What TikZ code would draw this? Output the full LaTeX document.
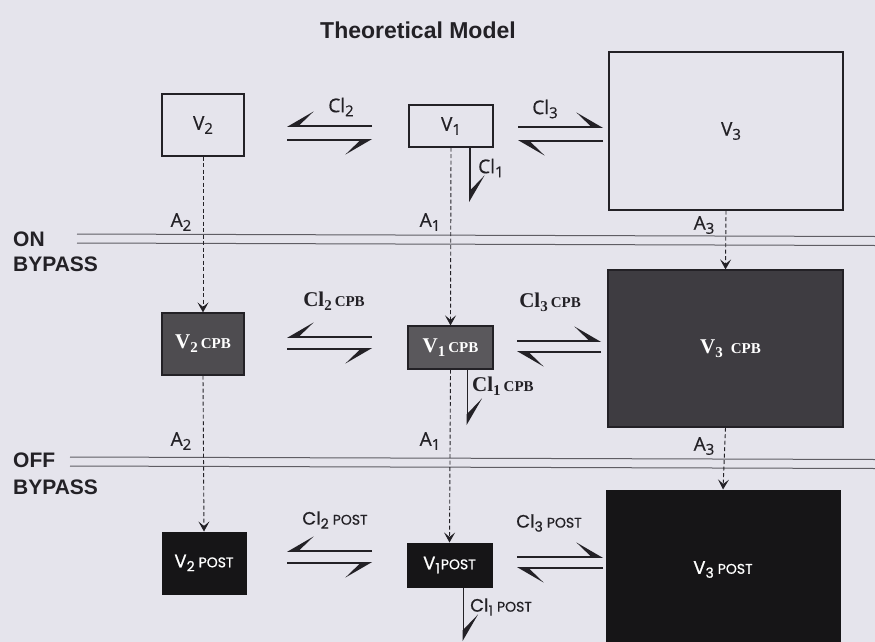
\documentclass[tikz,border=0pt]{standalone}
\usepackage{fontspec}
\usetikzlibrary{arrows.meta}
\newfontfamily\ttlfont{Liberation Sans}
\newfontfamily\humfont{Open Sans}[FakeBold=0.6]
\newfontfamily\serfont{Liberation Serif}
\newfontfamily\geofont{Poppins}[FakeBold=0.8]
\definecolor{bg}{RGB}{229,228,236}
\definecolor{ink}{RGB}{35,33,38}
\definecolor{cpbA}{RGB}{78,76,80}
\definecolor{cpbB}{RGB}{90,88,92}
\definecolor{cpbC}{RGB}{62,60,65}
\definecolor{postc}{RGB}{22,21,23}
\definecolor{rulec}{RGB}{95,93,100}
% row 1 labels (humanist sans)
\newcommand\Lone[2]{{\humfont\fontsize{19}{19}\selectfont #1\raisebox{-4pt}{\fontsize{15}{15}\selectfont #2}}}
% row 2 labels (bold serif)
\newcommand\Ltwo[4][3pt]{{\serfont\bfseries\fontsize{21}{21}\selectfont #2\raisebox{-4pt}{\fontsize{15}{15}\selectfont #3}\hspace{#1}\fontsize{15}{15}\selectfont #4}}
% row 3 labels (geometric sans)
\newcommand\Lthree[4][4pt]{{\geofont\fontsize{18}{18}\selectfont #2\raisebox{-4pt}{\fontsize{14}{14}\selectfont #3}\hspace{#1}\fontsize{14}{14}\selectfont #4}}
\newcommand\bigsans[1]{{\ttlfont\bfseries\fontsize{21}{21}\selectfont #1}}
\begin{document}
\begin{tikzpicture}[x=1pt,y=-1pt,
  openbox/.style={draw=ink, line width=1.2pt, fill=bg, inner sep=0pt, text=ink},
  cpbbox/.style={draw=ink, line width=1.2pt, inner sep=0pt, text=white},
  postbox/.style={draw=postc, line width=1pt, fill=postc, inner sep=0pt, text=white},
  dasharrow/.style={draw=ink, line width=0.9pt, dash pattern=on 4pt off 2.5pt,
    -{Stealth[length=10pt, width=11pt, inset=4.5pt, sep=0pt]}},
  hl/.style={draw=ink, line width=1.8pt, -{Stealth[harpoon, length=25pt, width=29pt, inset=15pt]}},
  hr/.style={draw=ink, line width=1.8pt, -{Stealth[harpoon, swap, length=25pt, width=29pt, inset=15pt]}},
  dbl/.style={draw=rulec, line width=1pt},
  lab/.style={inner sep=0pt, text=ink}
]
\useasboundingbox[fill=bg] (0,0) rectangle (875,642);

% title
\node[lab] (title) at (418,30) {{\ttlfont\bfseries\fontsize{23}{23}\selectfont Theoretical Model}};

% section labels
\node[lab, anchor=west] (on) at (13,239) {\bigsans{ON}};
\node[lab, anchor=west] (bypassA) at (13,264) {\bigsans{BYPASS}};
\node[lab, anchor=west] (off) at (13,460) {\bigsans{OFF}};
\node[lab, anchor=west] (bypassB) at (13,487) {\bigsans{BYPASS}};

% double rules
\coordinate (onLa) at (77,234);  \coordinate (onRa) at (875,236.5);
\coordinate (onLb) at (77,243);  \coordinate (onRb) at (875,245.5);
\coordinate (offLa) at (70,457); \coordinate (offRa) at (875,459.5);
\coordinate (offLb) at (70,466); \coordinate (offRb) at (875,468.5);
\draw[dbl] (onLa) -- (onRa);
\draw[dbl] (onLb) -- (onRb);
\draw[dbl] (offLa) -- (offRa);
\draw[dbl] (offLb) -- (offRb);

% row 1 boxes
\node[openbox, minimum width=82, minimum height=62] (V2) at (203,125) {\Lone{V}{2}};
\node[openbox, minimum width=84, minimum height=42] (V1) at (451,126) {\Lone{V}{1}};
\node[openbox, minimum width=234, minimum height=158] (V3) at (726,131) {\hspace{10pt}\raisebox{-6pt}{\Lone{V}{3}}};

% row 2 boxes
\node[cpbbox, fill=cpbA, minimum width=82, minimum height=62] (V2c) at (203,344) {\Ltwo{V}{2}{CPB}};
\node[cpbbox, fill=cpbB, minimum width=85, minimum height=43] (V1c) at (450.5,347.5) {\Ltwo{V}{1}{CPB}};
\node[cpbbox, fill=cpbC, minimum width=235, minimum height=157] (V3c) at (725.5,348.5) {\hspace{10pt}\raisebox{-3pt}{\Ltwo[8pt]{V}{3}{CPB}}};

% row 3 boxes
\node[postbox, minimum width=84, minimum height=62] (V2p) at (204,563) {\Lthree{V}{2}{POST}};
\node[postbox, minimum width=85, minimum height=44] (V1p) at (449.5,565) {\Lthree[1pt]{V}{1}{POST}};
\node[postbox, minimum width=234, minimum height=160] (V3p) at (723,570) {\raisebox{5pt}{\Lthree{V}{3}{POST}}};

% dashed transfer arrows
\draw[dasharrow] (V2.south) -- (V2c.north);
\draw[dasharrow] (V1.south) -- (V1c.north);
\draw[dasharrow] (V3.south) -- (V3c.north);
\draw[dasharrow] (V2c.south) -- (V2p.north);
\draw[dasharrow] (V1c.south) -- (V1p.north);
\draw[dasharrow] (V3c.south) -- (V3p.north);

% A labels
\node[lab] (A2a) at (181,222) {\Lone{A}{2}};
\node[lab] (A1a) at (430,222) {\Lone{A}{1}};
\node[lab] (A3a) at (704,225) {\Lone{A}{3}};
\node[lab] (A2b) at (181,441) {\Lone{A}{2}};
\node[lab] (A1b) at (430,441) {\Lone{A}{1}};
\node[lab] (A3b) at (704,446) {\Lone{A}{3}};

% row 1 exchange arrows
\coordinate (p1L) at (287,126); \coordinate (p1R) at (372,126);
\coordinate (q1L) at (287,140); \coordinate (q1R) at (372,140);
\coordinate (r1L) at (518,127); \coordinate (r1R) at (603,127);
\coordinate (s1L) at (518,141); \coordinate (s1R) at (603,141);
\draw[hr] (p1R) -- (p1L);
\draw[hr] (q1L) -- (q1R);
\draw[hl] (r1L) -- (r1R);
\draw[hl] (s1R) -- (s1L);
\coordinate (e1) at (470,202);
\draw[hl] ([xshift=19pt]V1.south) -- (e1);
\node[lab] (cl2a) at (341,107) {\Lone{Cl}{2}};
\node[lab] (cl3a) at (545,109) {\Lone{Cl}{3}};
\node[lab, anchor=west] (cl1a) at (478,168) {\Lone{Cl}{1}};

% row 2 exchange arrows
\coordinate (p2L) at (287,337); \coordinate (p2R) at (372,337);
\coordinate (q2L) at (287,349); \coordinate (q2R) at (372,349);
\coordinate (r2L) at (517,341); \coordinate (r2R) at (601,341);
\coordinate (s2L) at (517,352); \coordinate (s2R) at (601,352);
\draw[hr] (p2R) -- (p2L);
\draw[hr] (q2L) -- (q2R);
\draw[hl] (r2L) -- (r2R);
\draw[hl] (s2R) -- (s2L);
\coordinate (e2) at (467.5,425);
\draw[hl] ([xshift=17pt]V1c.south) -- (e2);
\node[lab] (cl2b) at (334,301) {\Ltwo{Cl}{2}{CPB}};
\node[lab] (cl3b) at (550,302) {\Ltwo{Cl}{3}{CPB}};
\node[lab, anchor=west] (cl1b) at (472,386) {\Ltwo{Cl}{1}{CPB}};

% row 3 exchange arrows
\coordinate (p3L) at (287,551); \coordinate (p3R) at (372,551);
\coordinate (q3L) at (287,563); \coordinate (q3R) at (372,563);
\coordinate (r3L) at (517,557); \coordinate (r3R) at (603,557);
\coordinate (s3L) at (517,568); \coordinate (s3R) at (603,568);
\draw[hr] (p3R) -- (p3L);
\draw[hr] (q3L) -- (q3R);
\draw[hl] (r3L) -- (r3R);
\draw[hl] (s3R) -- (s3L);
\coordinate (e3) at (463.5,641);
\draw[hl] ([xshift=14pt]V1p.south) -- (e3);
\node[lab] (cl2c) at (335,520) {\Lthree{Cl}{2}{POST}};
\node[lab] (cl3c) at (549,523) {\Lthree{Cl}{3}{POST}};
\node[lab, anchor=west] (cl1c) at (470,607) {\Lthree{Cl}{1}{POST}};
\end{tikzpicture}
\end{document}
